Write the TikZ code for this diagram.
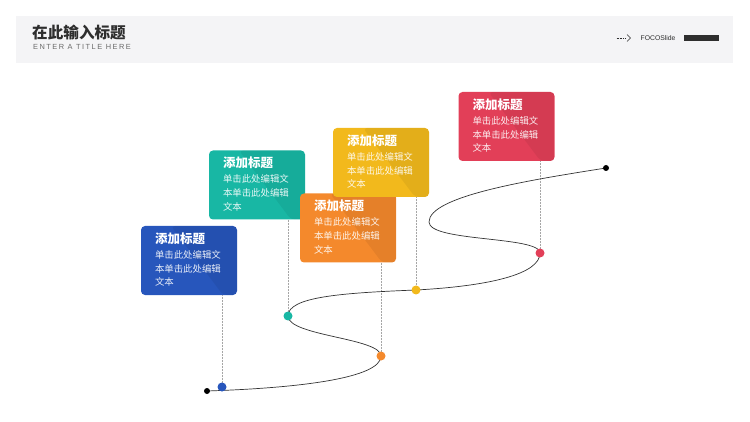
\documentclass[tikz,border=0pt]{standalone}
\usepackage{fontspec}
\setmainfont{Liberation Sans}
\newfontfamily\cjk{Noto Sans CJK SC}
\usetikzlibrary{positioning}
\definecolor{headbg}{HTML}{F4F4F6}
\definecolor{inkdark}{HTML}{2E2E2E}
\definecolor{inkgray}{HTML}{6A6A6A}
\definecolor{cblue}{HTML}{2756BC}
\definecolor{cteal}{HTML}{18B7A4}
\definecolor{corange}{HTML}{F4892C}
\definecolor{cyellow}{HTML}{F2B91C}
\definecolor{cred}{HTML}{E23F58}
\begin{document}
\begin{tikzpicture}[x=1pt,y=1pt]
            \tikzstyle{every node}+=[inner sep=0pt]
            \tikzstyle{card}=[rounded corners=4pt, minimum width=96pt, minimum height=69pt,
              path picture={\fill [black, opacity=0.06] ([xshift=-18pt]path picture bounding box.north)
                -- (path picture bounding box.north east) -- (path picture bounding box.south east)
                -- ([xshift=34pt]path picture bounding box.south) -- cycle;}]
            \tikzstyle{cardtitle}=[anchor=west, text=white, font=\cjk\bfseries\fontsize{12.5}{14}\selectfont]
            \tikzstyle{cardtext}=[anchor=north west, align=left, text=white, text opacity=0.9,
              font=\cjk\fontsize{9.4}{13.6}\selectfont]
            \tikzstyle{dot}=[circle, minimum size=9pt]
            \tikzstyle{stem}=[gray!70, densely dotted, line width=0.5pt]
            \useasboundingbox (0,0) rectangle (750,-422);
            % header
            \fill [headbg] (16,-16) rectangle (733,-63);
            \node [anchor=west, text=inkdark, font=\cjk\bfseries\fontsize{15.6}{16}\selectfont] (title) at (32,-32.5) {在此输入标题};
            \node [anchor=west, text=inkgray, font=\addfontfeatures{LetterSpace=20}\fontsize{7.4}{8}\selectfont] (subtitle) at (33,-47) {ENTER A TITLE HERE};
            \node [anchor=west, text=inkdark, font=\fontsize{6.8}{7}\selectfont] (brand) at (640.5,-38) {FOCOSlide};
            \draw [inkdark, densely dotted, line width=0.6pt] (616.5,-38) -- (626,-38);
            \draw [inkdark, line width=0.6pt] (627,-34.5) -- (630.5,-38) -- (627,-41.5);
            \fill [inkdark] (684,-35.5) rectangle (719,-41);
            % cards
            \node [card, fill=cblue] (bluebox) at (189,-260.5) {};
            \node [cardtitle] at ([xshift=14pt,yshift=-12.5pt]bluebox.north west) {添加标题};
            \node [cardtext] at ([xshift=14pt,yshift=-24.5pt]bluebox.north west) {单击此处编辑文\\本单击此处编辑\\文本};
            \node [card, fill=cteal] (tealbox) at (257,-185) {};
            \node [cardtitle] at ([xshift=14pt,yshift=-12.5pt]tealbox.north west) {添加标题};
            \node [cardtext] at ([xshift=14pt,yshift=-24.5pt]tealbox.north west) {单击此处编辑文\\本单击此处编辑\\文本};
            \node [card, fill=corange] (orangebox) at (348,-228) {};
            \node [cardtitle] at ([xshift=14pt,yshift=-12.5pt]orangebox.north west) {添加标题};
            \node [cardtext] at ([xshift=14pt,yshift=-24.5pt]orangebox.north west) {单击此处编辑文\\本单击此处编辑\\文本};
            \node [card, fill=cyellow] (yellowbox) at (381,-162.5) {};
            \node [cardtitle] at ([xshift=14pt,yshift=-12.5pt]yellowbox.north west) {添加标题};
            \node [cardtext] at ([xshift=14pt,yshift=-24.5pt]yellowbox.north west) {单击此处编辑文\\本单击此处编辑\\文本};
            \node [card, fill=cred] (redbox) at (506.5,-126.5) {};
            \node [cardtitle] at ([xshift=14pt,yshift=-12.5pt]redbox.north west) {添加标题};
            \node [cardtext] at ([xshift=14pt,yshift=-24.5pt]redbox.north west) {单击此处编辑文\\本单击此处编辑\\文本};
            % road
            \coordinate (startpt) at (207,-391);
            \coordinate (orangept) at (381,-356);
            \coordinate (tealpt) at (288,-316);
            \coordinate (yellowpt) at (416,-290);
            \coordinate (redpt) at (540,-253);
            \coordinate (bendpt) at (429,-222);
            \coordinate (endpt) at (606,-168);
            \draw [stem] (bluebox.south -| 222,0) -- (222,-387);
            \draw [stem] (tealbox.south -| tealpt) -- (tealpt);
            \draw [stem] (orangebox.south -| orangept) -- (orangept);
            \draw [stem] (yellowbox.south -| yellowpt) -- (yellowpt);
            \draw [stem] (redbox.south -| redpt) -- (redpt);
            \draw [black!80, line width=0.7pt] (startpt) .. controls (300,-388) and (381,-378) .. (orangept)
              .. controls (381,-338) and (288,-336) .. (tealpt)
              .. controls (288,-297) and (340,-293) .. (yellowpt)
              .. controls (490,-286) and (540,-274) .. (redpt)
              .. controls (540,-236) and (429,-242) .. (bendpt)
              .. controls (429,-196) and (530,-180) .. (endpt);
            \node [dot, fill=black, minimum size=6pt] (startdot) at (startpt) {};
            \node [dot, fill=black, minimum size=6pt] (enddot) at (endpt) {};
            \node [dot, fill=cblue] (bluedot) at (222,-387) {};
            \node [dot, fill=cteal] (tealdot) at (tealpt) {};
            \node [dot, fill=corange] (orangedot) at (orangept) {};
            \node [dot, fill=cyellow] (yellowdot) at (yellowpt) {};
            \node [dot, fill=cred] (reddot) at (redpt) {};
        \end{tikzpicture}
\end{document}
